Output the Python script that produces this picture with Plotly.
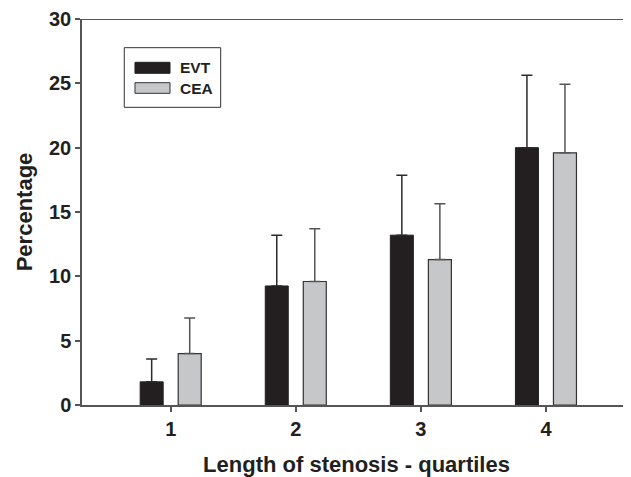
import plotly.graph_objects as go

quartiles = [1, 2, 3, 4]
evt_values = [1.8, 9.25, 13.2, 20.0]
evt_err = [1.77, 3.95, 4.65, 5.62]
cea_values = [4.0, 9.6, 11.3, 19.6]
cea_err = [2.77, 4.1, 4.35, 5.33]
series_names = ["EVT", "CEA"]
y_ticks = [0, 5, 10, 15, 20, 25, 30]

FONT = "Liberation Sans, Arial, sans-serif"
TXT = "#231f20"
EVT_COLOR = "#231f20"
CEA_COLOR = "#c6c7c9"


def bold(size):
    return dict(family=FONT, size=size, color=TXT, weight="bold")


fig = go.Figure()
fig.add_trace(go.Bar(
    x=quartiles, y=evt_values, name=series_names[0],
    marker=dict(color=EVT_COLOR, line=dict(color=EVT_COLOR, width=1)),
    error_y=dict(type="data", symmetric=False, array=evt_err,
                 arrayminus=[0] * len(evt_err), color="#2a2a2a",
                 thickness=1.5, width=5.5),
    showlegend=False,
))
fig.add_trace(go.Bar(
    x=quartiles, y=cea_values, name=series_names[1],
    marker=dict(color=CEA_COLOR, line=dict(color="#333333", width=1.2)),
    error_y=dict(type="data", symmetric=False, array=cea_err,
                 arrayminus=[0] * len(cea_err), color="#555555",
                 thickness=1.5, width=5.5),
    showlegend=False,
))

# top frame line
fig.add_shape(type="line", xref="paper", yref="y", x0=0, x1=1, y0=30, y1=30,
              line=dict(color=EVT_COLOR, width=1.5))

# custom legend
fig.add_shape(type="rect", xref="paper", yref="paper", x0=0.077, x1=0.2526,
              y0=0.7712, y1=0.9257, line=dict(color="#333333", width=1),
              fillcolor="white", layer="above")
fig.add_shape(type="rect", xref="paper", yref="paper", x0=0.0965, x1=0.1603,
              y0=0.8593, y1=0.8878, line=dict(color=EVT_COLOR, width=1),
              fillcolor=EVT_COLOR, layer="above")
fig.add_shape(type="rect", xref="paper", yref="paper", x0=0.0965, x1=0.1603,
              y0=0.8075, y1=0.835, line=dict(color="#333333", width=1),
              fillcolor=CEA_COLOR, layer="above")
for name, yc in zip(series_names, [0.8736, 0.8212]):
    fig.add_annotation(xref="paper", yref="paper", x=0.174, y=yc, text=name,
                       showarrow=False, xanchor="left", yanchor="middle",
                       font=bold(15.5))

fig.update_layout(
    width=623, height=469,
    margin=dict(l=74, r=0, t=11, b=72),
    paper_bgcolor="white", plot_bgcolor="white",
    barmode="group", bargap=0.392, bargroupgap=0.395,
    font=dict(family=FONT, color=TXT),
    xaxis=dict(
        range=[0.291, 4.68], tickvals=quartiles, ticks="outside", ticklen=5,
        tickwidth=1.5, tickcolor="#555555", showline=True, linecolor="#555555",
        linewidth=1.5, showgrid=False, zeroline=False,
        tickfont=bold(20),
        title=dict(text="Length of stenosis - quartiles", font=bold(22), standoff=18),
    ),
    yaxis=dict(
        range=[0, 30], tickvals=y_ticks, ticks="outside", ticklen=5,
        tickwidth=1.5, tickcolor="#555555", showline=True, linecolor="#555555",
        linewidth=1.5, showgrid=False, zeroline=False,
        tickfont=bold(20),
        title=dict(text="Percentage", font=bold(22), standoff=10),
    ),
)

fig.write_html("out.html")
